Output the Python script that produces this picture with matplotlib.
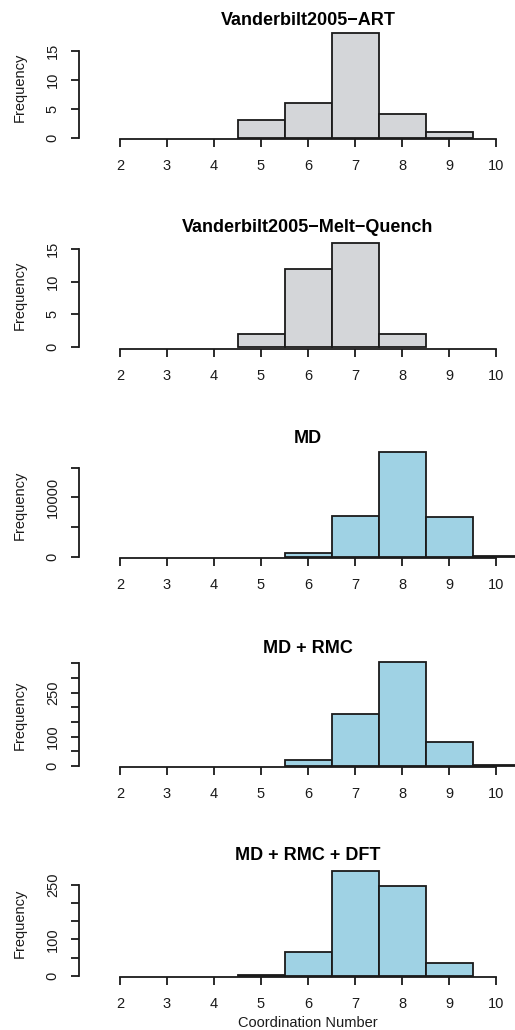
import matplotlib
matplotlib.use("Agg")
import matplotlib.pyplot as plt

plt.rcParams['font.family'] = ['Liberation Sans', 'DejaVu Sans']

# coordination number histograms (bin centre -> count)
titles = ["Vanderbilt2005\u2212ART", "Vanderbilt2005\u2212Melt\u2212Quench",
          "MD", "MD + RMC", "MD + RMC + DFT"]
cn_art = [5, 6, 7, 8, 9]
counts_art = [3, 6, 18, 4, 1]
cn_mq = [5, 6, 7, 8]
counts_mq = [2, 12, 16, 2]
cn_md = [6, 7, 8, 9, 10]
counts_md = [670, 6900, 17580, 6730, 170]
cn_rmc = [6, 7, 8, 9, 10]
counts_rmc = [20, 176, 355, 82, 3]
cn_dft = [5, 6, 7, 8, 9]
counts_dft = [2, 65, 289, 247, 36]

yticks_art = [0, 5, 10, 15]
ylabels_art = ["0", "5", "10", "15"]
yticks_md = [0, 5000, 10000, 15000]
ylabels_md = ["0", "", "10000", ""]
yticks_rmc = [0, 50, 100, 150, 200, 250, 300, 350]
ylabels_rmc = ["0", "", "100", "", "", "250", "", ""]
yticks_dft = [0, 50, 100, 150, 200, 250]
ylabels_dft = ["0", "", "100", "", "", "250"]
xticks = [2, 3, 4, 5, 6, 7, 8, 9, 10]

GREY = "#d4d6d9"
BLUE = "#9fd2e4"

W, H = 515, 1030
fig = plt.figure(figsize=(W / 100, H / 100), dpi=100)

# pixel layout: (x-axis line, axes top, y lower, y upper)
panels = [
    (cn_art, counts_art, yticks_art, ylabels_art, GREY, 139.3, 34.7, -0.28, 17.76),
    (cn_mq, counts_mq, yticks_art, ylabels_art, GREY, 348.7, 241.3, -0.26, 16.19),
    (cn_md, counts_md, yticks_md, ylabels_md, BLUE, 557.7, 452.3, -168, 17576),
    (cn_rmc, counts_rmc, yticks_rmc, ylabels_rmc, BLUE, 767.0, 663.0, -3.4, 351),
    (cn_dft, counts_dft, yticks_dft, ylabels_dft, BLUE, 976.7, 869.3, -2.8, 293),
]

x_left, x_right = 79, 515
xlim = (2 - (120 - 79) / 47, 2 + (515 - 120) / 47)
lw = 1.3

for i, (cn, counts, yt, yl, col, bot_px, top_px, ylo, yhi) in enumerate(panels):
    ax = fig.add_axes([x_left / W, (H - bot_px) / H,
                       (x_right - x_left) / W, (bot_px - top_px) / H])
    ax.bar(cn, counts, width=1.0, color=col, edgecolor="#1a1a1a",
           linewidth=lw, clip_on=False, zorder=2)
    ax.set_xlim(*xlim)
    ax.set_ylim(ylo, yhi)
    for s in ["top", "right"]:
        ax.spines[s].set_visible(False)
    ax.spines["left"].set_bounds(0, yt[-1])
    ax.spines["bottom"].set_bounds(2, 10)
    for s in ["left", "bottom"]:
        ax.spines[s].set_linewidth(lw)
        ax.spines[s].set_color("#1a1a1a")
    ax.set_xticks(xticks)
    ax.set_xticklabels([str(t) for t in xticks])
    ax.set_yticks(yt)
    ax.set_yticklabels(yl, rotation=90, va="center")
    ax.tick_params(length=5.8, width=lw, color="#1a1a1a", labelsize=10.5,
                   labelcolor="#1a1a1a")
    ax.tick_params(axis="x", pad=8.5)
    ax.tick_params(axis="y", pad=8)
    ax.patch.set_visible(False)
    ax.text(-0.135, 0.5, "Frequency", rotation=90, ha="center", va="center",
            fontsize=10.5, transform=ax.transAxes, color="#1a1a1a")
    ax.annotate(titles[i], xy=(6, 1), xycoords=("data", "axes fraction"),
                xytext=(0, 7), textcoords="offset points", ha="center",
                va="baseline", fontsize=13, fontweight="bold")
    if i == len(panels) - 1:
        ax.annotate("Coordination Number", xy=(6, 0),
                    xycoords=("data", "axes fraction"), xytext=(0, -33),
                    textcoords="offset points", ha="center", va="center",
                    fontsize=10.5, color="#1a1a1a")

fig.savefig("out.png", dpi=100)
